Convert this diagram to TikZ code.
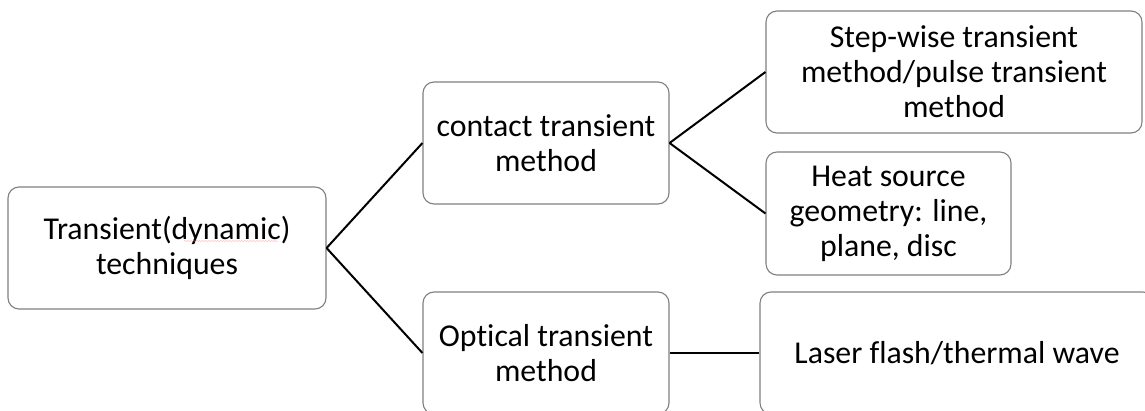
\documentclass[tikz,border=0pt]{standalone}
\usepackage{fontspec}
\setmainfont[Ligatures={NoCommon}]{Carlito}
\usetikzlibrary{decorations.pathmorphing}
\begin{document}
\begin{tikzpicture}[x=1pt,y=-1pt,
  box/.style={draw=black!50, line width=1.1pt, rounded corners=11pt, fill=white,
    align=center, inner sep=0pt, font=\fontsize{31.8}{35}\selectfont},
  conn/.style={draw=black, line width=2pt}]
\useasboundingbox (0,0) rectangle (1145,411);
\node[box, minimum width=318pt, minimum height=122pt] (root) at (167,248) {Transient(dynamic)\\techniques};
\node[box, minimum width=246pt, minimum height=122pt] (contact) at (546,143) {contact transient\\method};
\node[box, minimum width=246pt, minimum height=122pt] (optical) at (546,353) {Optical transient\\method};
\node[box, minimum width=376pt, minimum height=122pt] (step) at (954,72) {Step-wise transient\\method/pulse transient\\method};
\node[box, minimum width=245pt, minimum height=123pt] (heat) at (888.5,213.5) {Heat source\\geometry: line,\\plane, disc};
\node[box, minimum width=394pt, minimum height=122pt] (laser) at (957,353) {Laser flash/thermal wave};
\draw[conn] (root.east) -- (contact.west);
\draw[conn] (root.east) -- (optical.west);
\draw[conn] (contact.east) -- (step.west);
\draw[conn] (contact.east) -- (heat.west);
\draw[conn] (optical.east) -- (laser.west);
\coordinate (sqa) at (184,241);
\coordinate (sqb) at (278,241);
\draw[red!40, line width=0.4pt, decorate, decoration={zigzag, amplitude=0.4pt, segment length=3pt}] (sqa) -- (sqb);
\end{tikzpicture}
\end{document}
